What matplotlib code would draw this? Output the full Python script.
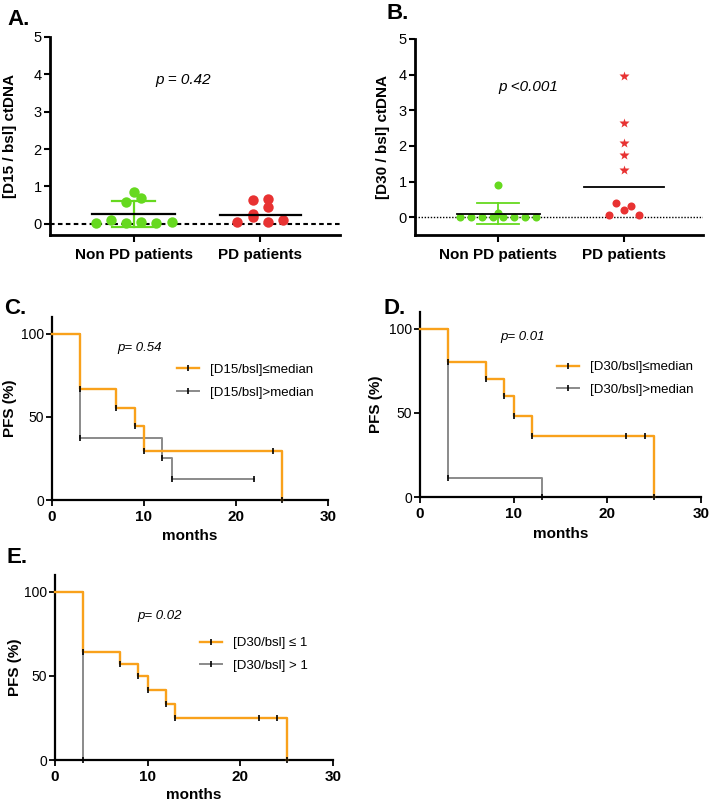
import numpy as np
import matplotlib
matplotlib.use("Agg")
import matplotlib.pyplot as plt
from matplotlib.lines import Line2D

plt.rcParams['font.family'] = ['Liberation Sans', 'DejaVu Sans']

# ---- scatter data (ratio ctDNA) ----
groups = ['Non PD patients', 'PD patients']
d15_nonpd = [0.02, 0.10, 0.02, 0.06, 0.02, 0.05, 0.58, 0.70, 0.86]
d15_pd = [0.04, 0.19, 0.06, 0.09, 0.26, 0.44, 0.64, 0.67]
d30_nonpd = [0.0, 0.0, 0.0, 0.0, 0.0, 0.0, 0.0, 0.0, 0.13, 0.90]
d30_pd = [0.07, 0.19, 0.07, 0.41, 0.31, 1.31, 1.75, 2.08, 2.64, 3.96]
p_a = 'p = 0.42'
p_b = 'p <0.001'

# ---- Kaplan-Meier step data (months, PFS %) ----
c_low_t = [0, 3, 7, 9, 10, 24, 25]
c_low_s = [100, 66.7, 55.6, 44.4, 29.6, 29.6, 0]
c_high_t = [0, 3, 12, 13, 22]
c_high_s = [100, 37.5, 25, 12.5, 12.5]

d_low_t = [0, 3, 7, 9, 10, 12, 22, 24, 25]
d_low_s = [100, 80, 70, 60, 48, 36, 36, 36, 0]
d_high_t = [0, 3, 13]
d_high_s = [100, 11.1, 0]

e_low_t = [0, 3, 7, 9, 10, 12, 13, 22, 24, 25]
e_low_s = [100, 64.3, 57.1, 50, 41.7, 33.3, 25, 25, 25, 0]
e_high_t = [0, 3]
e_high_s = [100, 0]

GREEN = '#66d91f'
RED = '#e83232'
ORANGE = '#f9a11b'
GREY = '#8a8a8a'

W, H = 709, 805
fig = plt.figure(figsize=(W / 100, H / 100), dpi=100)


def box(l, t, r, b):
    # pixel box -> figure fraction
    return [l / W, 1 - b / H, (r - l) / W, (b - t) / H]


def swarm(vals, step, bin_w):
    vals = np.asarray(vals)
    rows = np.floor(vals / bin_w + 1e-9).astype(int)
    off = np.zeros(len(vals))
    for r in np.unique(rows):
        idx = np.where(rows == r)[0]
        off[idx] = (np.arange(len(idx)) - (len(idx) - 1) / 2) * step
    return off


def scatter_panel(ax, nonpd, pd_vals, ylabel, ylow, ms, step, lw, zero_ls, zero_lw, ptxt, pxy, ylab_x):
    nonpd = np.asarray(nonpd)
    pd_vals = np.asarray(pd_vals)
    ax.axhline(0, color='k', ls=zero_ls, lw=zero_lw, zorder=1)
    x1 = 1 + swarm(nonpd, step, 0.25 if step > 0.1 else 0.1)
    ax.plot(x1, nonpd, 'o', color=GREEN, ms=ms, mec='none', zorder=3)
    x2 = 2 + swarm(pd_vals, 0.12, 0.25)
    circ = pd_vals <= 1
    ax.plot(x2[circ], pd_vals[circ], 'o', color=RED, ms=ms, mec='none', zorder=3)
    if (~circ).any():
        ax.plot(x2[~circ], pd_vals[~circ], '*', color=RED, ms=ms * 1.35, mec='none', zorder=3)
    m = nonpd.mean()
    sd = nonpd.std(ddof=1)
    ax.plot([0.67, 1.33], [m, m], color='k', lw=lw, zorder=4)
    ax.plot([1, 1], [m - sd, m + sd], color=GREEN, lw=lw, zorder=2)
    ax.plot([0.83, 1.17], [m + sd, m + sd], color=GREEN, lw=lw, zorder=2)
    ax.plot([0.83, 1.17], [m - sd, m - sd], color=GREEN, lw=lw, zorder=2)
    med = np.median(pd_vals)
    ax.plot([1.68, 2.32], [med, med], color='k', lw=lw, zorder=4)
    ax.set_xlim(0.34, 2.63)
    ax.set_ylim(ylow, 5)
    ax.set_yticks(range(6))
    ax.set_xticks([1, 2])
    ax.set_xticklabels(groups, fontweight='bold', fontsize=11)
    ax.tick_params(axis='y', labelsize=10.5, width=1.5, length=4, pad=2)
    ax.tick_params(axis='x', width=1.5, length=5, pad=4)
    for s in ['top', 'right']:
        ax.spines[s].set_visible(False)
    for s in ['left', 'bottom']:
        ax.spines[s].set_linewidth(2)
    ax.spines['left'].set_bounds(ylow, 5)
    ax.set_ylabel(ylabel, fontweight='bold', fontsize=11)
    ax.yaxis.set_label_coords(ylab_x, 0.5)
    ax.text(pxy[0], pxy[1], ptxt, style='italic', fontsize=11, ha='center', va='center')


axA = fig.add_axes(box(50, 37, 340, 235))
scatter_panel(axA, d15_nonpd, d15_pd, '[D15 / bsl] ctDNA', -0.3, 7.5, 0.12, 1.6,
              (0, (2.2, 1.6)), 1.5, p_a, (1.39, 3.85), -0.114)
axB = fig.add_axes(box(415, 39, 703, 235))
scatter_panel(axB, d30_nonpd, d30_pd, '[D30 / bsl] ctDNA', -0.5, 5.8, 0.087, 1.3,
              (0, (1, 1.2)), 1.0, p_b, (1.24, 3.65), -0.087)


def km_panel(ax, low, high, labels, ptxt, pxy, leg_xy, ylab_x, xlab_y):
    ax.step(high[0], high[1], where='post', color=GREY, lw=1.4, zorder=2, clip_on=False)
    ax.step(low[0], low[1], where='post', color=ORANGE, lw=1.7, zorder=3, clip_on=False)
    ax.plot(high[0][1:], high[1][1:], '|', color='k', ms=4, mew=1.2, zorder=4, clip_on=False)
    ax.plot(low[0][1:], low[1][1:], '|', color='k', ms=4, mew=1.2, zorder=4, clip_on=False)
    ax.set_xlim(0, 30)
    ax.set_ylim(0, 110)
    ax.set_xticks([0, 10, 20, 30])
    ax.set_yticks([0, 50, 100])
    for lab in ax.get_xticklabels():
        lab.set_fontweight('bold')
    ax.tick_params(axis='x', labelsize=11, width=1.3, length=4, pad=3)
    ax.tick_params(axis='y', labelsize=10, width=1.3, length=4, pad=1.5)
    for s in ['top', 'right']:
        ax.spines[s].set_visible(False)
    for s in ['left', 'bottom']:
        ax.spines[s].set_linewidth(1.6)
    ax.set_xlabel('months', fontweight='bold', fontsize=11)
    ax.xaxis.set_label_coords(0.5, xlab_y)
    ax.set_ylabel('PFS (%)', fontweight='bold', fontsize=11)
    ax.yaxis.set_label_coords(ylab_x, 0.5)
    ax.text(pxy[0], pxy[1], ptxt, style='italic', fontsize=9.5, ha='center', va='center')
    handles = [Line2D([], [], color=ORANGE, lw=1.7, marker='|', mec='k', ms=4, mew=1.2),
               Line2D([], [], color=GREY, lw=1.4, marker='|', mec='k', ms=4, mew=1.2)]
    ax.legend(handles, labels, loc='center left', bbox_to_anchor=leg_xy, frameon=False,
              fontsize=9.5, borderpad=0, borderaxespad=0, handlelength=1.7,
              handletextpad=0.8, labelspacing=0.8, markerfirst=True)


axC = fig.add_axes(box(52, 317, 328, 500))
km_panel(axC, (c_low_t, c_low_s), (c_high_t, c_high_s),
         ['[D15/bsl]≤median', '[D15/bsl]>median'], 'p= 0.54', (9.5, 91.5), (0.453, 0.65),
         -0.127, -0.16)
axD = fig.add_axes(box(420, 312, 701, 497))
km_panel(axD, (d_low_t, d_low_s), (d_high_t, d_high_s),
         ['[D30/bsl]≤median', '[D30/bsl]>median'], 'p= 0.01', (10.9, 95), (0.4875, 0.64),
         -0.132, -0.16)
axE = fig.add_axes(box(55, 575, 333, 760))
km_panel(axE, (e_low_t, e_low_s), (e_high_t, e_high_s),
         ['[D30/bsl] ≤ 1', '[D30/bsl] > 1'], 'p= 0.02', (11.3, 85.7), (0.52, 0.57),
         -0.119, -0.15)

for lab, x, y in [('A.', 7, 25), ('B.', 387, 19), ('C.', 4, 314), ('D.', 383, 314), ('E.', 6, 563)]:
    fig.text(x / W, 1 - y / H, lab, fontsize=16, fontweight='bold', va='baseline')

fig.savefig('out.png', dpi=100)
